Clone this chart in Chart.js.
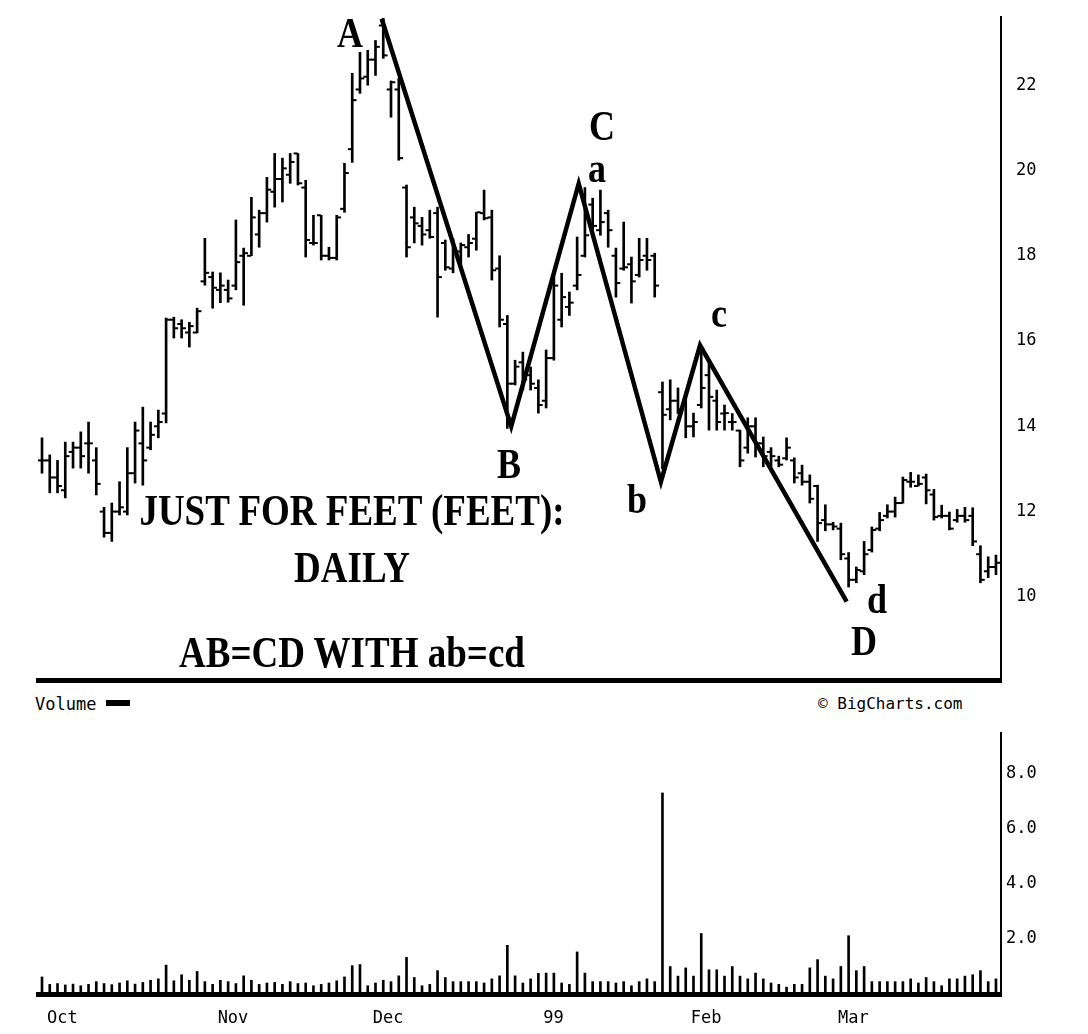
<!DOCTYPE html>
<html><head><meta charset="utf-8">
<script src="https://cdn.jsdelivr.net/npm/chart.js@4.4.1/dist/chart.umd.min.js"></script>
<style>
html,body{margin:0;padding:0;background:#fff;}
#wrap{position:relative;width:1088px;height:1034px;overflow:hidden;background:#fff;}
canvas{position:absolute;left:0;}
.serif{position:absolute;font-family:'Liberation Serif','Times New Roman',serif;font-weight:bold;color:#000;white-space:nowrap;transform-origin:0 0;transform:scaleY(1.2);line-height:1;}
.title{left:0;width:704px;text-align:center;font-size:37px;}
.let{font-size:36px;}
.mono{position:absolute;font-family:'DejaVu Sans Mono',monospace;color:#000;white-space:nowrap;line-height:1;}
.swatch{display:inline-block;width:24px;height:6px;background:#000;vertical-align:middle;margin-left:10px;position:relative;top:-2px;}
</style></head>
<body><div id="wrap">
<canvas id="price" width="1088" height="690" style="top:0"></canvas>
<canvas id="vol" width="1088" height="314" style="top:720px"></canvas>

<div class="serif title" style="top:488px">JUST FOR FEET (FEET):</div>
<div class="serif title" style="top:545px">DAILY</div>
<div class="serif title" style="top:630px">AB=CD WITH ab=cd</div>

<div class="serif let" style="left:337px;top:11px">A</div>
<div class="serif let" style="left:497px;top:442px">B</div>
<div class="serif let" style="left:589px;top:104px">C</div>
<div class="serif let" style="left:588px;top:146px">a</div>
<div class="serif let" style="left:627px;top:477px">b</div>
<div class="serif let" style="left:711px;top:291px">c</div>
<div class="serif let" style="left:867px;top:577px">d</div>
<div class="serif let" style="left:851px;top:619px">D</div>

<div class="mono" style="left:35px;top:696px;font-size:17px">Volume<span class="swatch"></span></div>
<div class="mono" style="left:818px;top:696px;font-size:16px">© BigCharts.com</div>
</div>
<script>
// ---- data ----
const dates = [
'98-10-01','98-10-02','98-10-05','98-10-06','98-10-07','98-10-08','98-10-09','98-10-12','98-10-13','98-10-14','98-10-15','98-10-16','98-10-19','98-10-20','98-10-21','98-10-22','98-10-23','98-10-26','98-10-27','98-10-28','98-10-29','98-10-30',
'98-11-02','98-11-03','98-11-04','98-11-05','98-11-06','98-11-09','98-11-10','98-11-11','98-11-12','98-11-13','98-11-16','98-11-17','98-11-18','98-11-19','98-11-20','98-11-23','98-11-24','98-11-25','98-11-27','98-11-30',
'98-12-01','98-12-02','98-12-03','98-12-04','98-12-07','98-12-08','98-12-09','98-12-10','98-12-11','98-12-14','98-12-15','98-12-16','98-12-17','98-12-18','98-12-21','98-12-22','98-12-23','98-12-24','98-12-28','98-12-29','98-12-30','98-12-31',
'99-01-04','99-01-05','99-01-06','99-01-07','99-01-08','99-01-11','99-01-12','99-01-13','99-01-14','99-01-15','99-01-19','99-01-20','99-01-21','99-01-22','99-01-25','99-01-26','99-01-27','99-01-28','99-01-29',
'99-02-01','99-02-02','99-02-03','99-02-04','99-02-05','99-02-08','99-02-09','99-02-10','99-02-11','99-02-12','99-02-16','99-02-17','99-02-18','99-02-19','99-02-22','99-02-23','99-02-24','99-02-25','99-02-26',
'99-03-01','99-03-02','99-03-03','99-03-04','99-03-05','99-03-08','99-03-09','99-03-10','99-03-11','99-03-12','99-03-15','99-03-16','99-03-17','99-03-18','99-03-19','99-03-22','99-03-23','99-03-24','99-03-25','99-03-26','99-03-29','99-03-30'];

const openP = [13.2,13.2,12.8,12.5,13.4,13.5,13.6,13.2,12.0,11.5,
12.0,12.0,12.9,13.6,13.5,14.0,14.3,16.5,16.4,16.2,
16.2,17.4,17.5,17.2,17.2,17.3,18.0,18.0,18.5,19.0,
19.5,19.8,19.9,20.4,19.6,18.3,18.95,18.0,17.95,19.1,
20.5,21.9,22.2,22.6,23.4,21.9,21.9,19.6,18.9,18.7,
18.6,19.0,18.3,17.7,18.1,18.2,18.4,19.0,18.9,17.7,
16.4,15.0,15.5,15.2,14.9,14.6,15.6,16.5,16.8,17.3,
18.0,19.2,18.6,19.0,18.0,17.7,17.8,17.55,18.0,18.0,
14.8,14.4,14.6,14.5,14.0,14.5,15.2,14.6,14.3,14.1,
13.9,13.5,14.0,13.6,13.4,13.2,13.25,13.2,12.9,12.7,
12.6,11.8,11.7,11.6,10.9,10.4,10.6,11.1,11.6,11.9,
12.0,12.2,12.7,12.6,12.8,12.4,11.9,11.9,11.8,11.9,
11.9,11.0,10.6,10.7];
const highP = [13.73,13.33,13.2,13.63,13.63,13.87,14.1,13.5,12.1,12.2,
12.7,13.5,14.1,14.45,14.1,14.38,16.54,16.56,16.5,16.44,
16.77,18.41,17.62,17.6,17.43,18.84,18.18,19.37,19.07,19.84,
20.4,20.29,20.4,20.4,19.77,18.95,18.95,18.2,18.95,20.17,
22.28,22.77,22.82,23.05,23.57,22.1,22.16,19.66,19.14,18.9,
19.07,19.14,18.37,18.4,18.3,18.5,19.02,19.54,19.07,18.0,
16.6,15.55,15.74,15.39,15.09,15.79,17.59,17.59,17.15,18.44,
19.6,19.35,19.54,19.07,18.18,18.79,17.97,18.41,18.41,18.06,
15.04,15.09,14.9,14.69,14.31,15.85,15.48,14.85,14.5,14.3,
13.91,14.2,14.2,13.75,13.5,13.3,13.73,13.26,13.09,12.86,
12.62,12.16,11.75,11.73,11.04,10.7,11.3,11.64,11.98,12.16,
12.34,12.81,12.92,12.86,12.88,12.52,12.15,11.99,12.05,12.1,
12.09,11.2,10.94,10.98];
const lowP = [12.9,12.44,12.44,12.32,13.02,13.02,12.9,12.39,11.4,11.3,
11.92,11.92,12.67,12.62,13.45,13.73,14.08,16.07,16.07,15.86,
16.19,17.31,16.77,16.9,16.91,17.2,16.84,18.0,18.2,18.79,
19.14,19.26,19.7,19.66,17.97,18.25,17.9,17.9,17.9,19.02,
20.19,21.81,22.0,22.23,22.63,21.25,20.24,17.97,18.3,18.25,
18.41,16.56,17.66,17.6,17.78,17.97,18.13,18.84,17.43,16.33,
13.95,14.97,14.85,14.85,14.31,14.43,15.55,16.33,16.6,17.2,
17.97,18.44,18.48,18.2,17.03,17.66,16.89,17.5,17.66,17.03,
13.0,14.15,14.3,13.73,13.75,14.43,13.91,13.91,13.91,13.91,
13.05,13.37,13.28,13.05,13.05,13.05,13.21,12.67,12.62,12.2,
11.3,11.55,11.57,10.87,10.23,10.33,10.52,11.05,11.55,11.85,
11.87,12.2,12.57,12.6,12.18,11.8,11.85,11.57,11.75,11.75,
11.2,10.33,10.45,10.52];
const closeP = [13.2,12.8,12.6,13.3,13.5,13.3,13.6,12.65,11.5,12.0,
12.1,12.9,13.9,13.2,13.8,14.1,16.5,16.3,16.3,16.35,
16.7,17.6,17.25,17.3,17.0,17.85,18.06,18.9,19.0,19.55,
19.8,20.05,20.2,19.7,18.37,18.3,18.0,17.95,18.9,19.94,
21.65,22.16,22.6,22.9,22.7,22.07,20.29,18.2,18.76,18.5,
18.44,17.5,17.73,18.1,18.25,18.3,19.02,18.88,17.66,16.5,
15.0,15.4,15.1,15.0,14.5,15.6,17.3,17.03,16.9,17.55,
18.48,18.7,18.79,18.6,17.36,17.73,17.4,17.9,17.9,17.3,
14.27,14.6,14.4,14.0,14.1,14.9,14.69,14.1,14.31,14.1,
13.2,14.0,13.6,13.3,13.3,13.1,13.5,12.8,12.7,12.3,
11.73,11.7,11.65,11.0,10.4,10.63,11.0,11.57,11.8,12.0,
12.2,12.74,12.7,12.65,12.5,11.87,11.9,11.6,11.9,11.8,
11.3,10.4,10.7,10.8];
// volume, millions of shares
const volume = [0.62,0.35,0.38,0.33,0.36,0.30,0.35,0.45,0.38,0.34,0.40,0.48,0.36,0.42,0.50,0.55,1.05,0.48,0.70,0.50,0.82,0.45,
0.35,0.50,0.45,0.38,0.66,0.50,0.35,0.40,0.42,0.35,0.45,0.38,0.40,0.30,0.35,0.40,0.48,0.62,1.03,1.07,
0.30,0.40,0.50,0.45,0.66,1.33,0.60,0.30,0.35,0.85,0.60,0.45,0.45,0.45,0.45,0.40,0.55,0.66,1.77,0.66,0.40,0.55,
0.75,0.76,0.76,0.40,0.35,1.53,0.76,0.45,0.45,0.45,0.40,0.45,0.30,0.45,0.55,0.45,7.31,1.00,0.65,
0.95,0.65,2.20,0.88,0.88,0.65,1.00,0.65,0.55,0.76,0.55,0.40,0.35,0.25,0.35,0.35,0.95,1.25,0.65,
0.55,1.00,2.12,0.85,1.00,0.45,0.45,0.45,0.45,0.45,0.55,0.40,0.60,0.45,0.30,0.55,0.55,0.65,0.70,0.85,0.45,0.55];
// AB=CD pattern pivots (trading-day index, price)
const pivotNames = ['A','B','C/a','b','c','D/d'];
const pivotDay = [43.8,60.5,69.2,79.8,84.85,103.75];
const pivotPrice = [23.56,14.0,19.69,12.7,15.9,9.89];
const priceTicks = [10,12,14,16,18,20,22];
const volumeTicks = [2,4,6,8];
const monthLabels = ['Oct','Nov','Dec','99','Feb','Mar'];

// ---- derived ----
const idx = dates.map((d,i)=>i);
const monthStart = idx.filter(i => i===0 || dates[i].slice(0,5)!==dates[i-1].slice(0,5));

const X_MIN = -0.516, X_MAX = 123.65;
const MONO = "'DejaVu Sans Mono', monospace";
const fitY = s => { s.width = 87; s.paddingTop = 0; s.paddingBottom = 0; };

new Chart(document.getElementById('price'), {
  type: 'bar',
  data: { datasets: [
    { type:'line', label:'pattern', data: pivotDay.map((d,k)=>({x:d, y:pivotPrice[k]})),
      borderColor:'#000', borderWidth:4.5, pointRadius:0, tension:0, borderJoinStyle:'miter', order:0 },
    { type:'line', label:'open', data: idx.map(i=>({x:i-0.3, y:openP[i]})), showLine:false,
      pointStyle:'line', pointRadius:2, pointBorderWidth:2, borderColor:'#000', backgroundColor:'#000', order:1 },
    { type:'line', label:'close', data: idx.map(i=>({x:i+0.3, y:closeP[i]})), showLine:false,
      pointStyle:'line', pointRadius:2, pointBorderWidth:2, borderColor:'#000', backgroundColor:'#000', order:2 },
    { type:'bar', label:'range', data: idx.map(i=>({x:i, y:[lowP[i], highP[i]]})),
      backgroundColor:'#000', borderWidth:0, barThickness:2, grouped:false, order:3 }
  ]},
  options: {
    responsive:false, animation:false, devicePixelRatio:1, events:[],
    layout:{padding:{left:38, top:17, right:0, bottom:0}},
    plugins:{legend:{display:false}, tooltip:{enabled:false}},
    scales:{
      x:{type:'linear', min:X_MIN, max:X_MAX, offset:false,
         grid:{display:false, drawTicks:false}, ticks:{display:false},
         border:{display:true, width:5, color:'#000'},
         afterFit:s=>{s.height=10; s.paddingLeft=0; s.paddingRight=0;}},
      y:{type:'linear', position:'right', min:8.05, max:23.6,
         grid:{display:false, drawTicks:false},
         border:{display:true, width:2, color:'#000'},
         ticks:{padding:15, color:'#000', font:{family:MONO, size:17}},
         afterBuildTicks:s=>{s.ticks = priceTicks.map(v=>({value:v}));},
         afterFit:fitY}
    }
  }
});

new Chart(document.getElementById('vol'), {
  type: 'bar',
  data: { datasets: [
    { label:'Volume', data: idx.map(i=>({x:i, y:volume[i]})), backgroundColor:'#000',
      borderWidth:0, barThickness:2 }
  ]},
  options: {
    responsive:false, animation:false, devicePixelRatio:1, events:[],
    layout:{padding:{left:38, top:13, right:0, bottom:0}},
    plugins:{legend:{display:false}, tooltip:{enabled:false}},
    scales:{
      x:{type:'linear', min:X_MIN, max:X_MAX, offset:false,
         grid:{display:false, drawTicks:false},
         border:{display:true, width:5, color:'#000'},
         ticks:{display:true, autoSkip:false, maxRotation:0, align:'start', labelOffset:5, padding:14,
                color:'#000', font:{family:MONO, size:17},
                callback:(v,k)=>monthLabels[k]},
         afterBuildTicks:s=>{s.ticks = monthStart.map(v=>({value:v}));},
         afterFit:s=>{s.height=40; s.paddingLeft=0; s.paddingRight=0;}},
      y:{type:'linear', position:'right', min:0, max:9.49,
         grid:{display:false, drawTicks:false},
         border:{display:true, width:2, color:'#000'},
         ticks:{padding:5, color:'#000', font:{family:MONO, size:17}, callback:v=>Number(v).toFixed(1)},
         afterBuildTicks:s=>{s.ticks = volumeTicks.map(v=>({value:v}));},
         afterFit:fitY}
    }
  }
});
</script>
</body></html>
